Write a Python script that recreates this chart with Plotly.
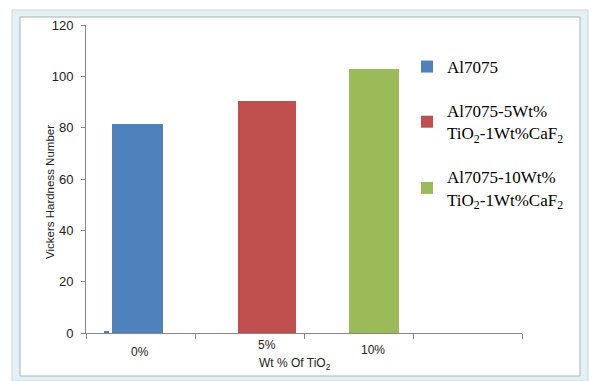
import plotly.graph_objects as go

categories = ["0%", "5%", "10%", ""]
series_names = ["Al7075",
                "Al7075-5Wt%<br>TiO<sub>2</sub>-1Wt%CaF<sub>2</sub>",
                "Al7075-10Wt%<br>TiO<sub>2</sub>-1Wt%CaF<sub>2</sub>"]
series_values = [81.5, 90.5, 102.8]
series_colors = ["#4F81BD", "#C0504D", "#9BBB59"]
stub_value = 0.5  # tiny blue stub at left of 0% group
y_ticks = [0, 20, 40, 60, 80, 100, 120]

W, H = 596, 381
ML, MR, MT, MB = 86, 74, 25, 48
PW, PH = W - ML - MR, H - MT - MB

def px_x(p):
    return (p - ML) / PW

def px_y(p):
    return (H - MB - p) / PH

idx = list(range(len(categories)))
offsets = [-0.257, -0.101, -0.083]
widths = [0.459, 0.523, 0.459]

fig = go.Figure()
fig.add_trace(go.Bar(x=[idx[0]], y=[stub_value], offset=-0.339, width=0.046,
                     marker=dict(color=series_colors[0], line=dict(width=0)),
                     showlegend=False, hoverinfo="skip"))
for i, (name, v, c) in enumerate(zip(series_names, series_values, series_colors)):
    fig.add_trace(go.Bar(x=[idx[i]], y=[v], name=name, offset=offsets[i], width=widths[i],
                         marker=dict(color=c, line=dict(width=0)), legendgroup=str(i)))

annotations = []
label_shift = [-1, 17, 14]
label_y = [352, 345, 350]
for i, cat in enumerate(categories[:3]):
    annotations.append(dict(x=idx[i], y=px_y(label_y[i]), xref="x", yref="paper",
                            xanchor="center", yanchor="middle",
                            text=cat, showarrow=False, xshift=label_shift[i],
                            font=dict(family="Liberation Sans", size=12, color="#222")))
annotations.append(dict(x=px_x(295), y=px_y(364), xref="paper", yref="paper",
                        xanchor="center", yanchor="middle",
                        text="Wt % Of TiO<sub>2</sub>", showarrow=False,
                        font=dict(family="Liberation Sans", size=12, color="#222")))
annotations.append(dict(x=px_x(50), y=px_y(192), xref="paper", yref="paper",
                        xanchor="center", yanchor="middle",
                        text="Vickers Hardness Number", showarrow=False, textangle=-90,
                        font=dict(family="Liberation Sans", size=11.5, color="#222")))

shapes = [
    dict(type="rect", xref="paper", yref="paper", layer="below",
         x0=px_x(12), x1=px_x(588), y0=px_y(381), y1=px_y(10),
         fillcolor="#e4f1f4", line=dict(color="#c3d8de", width=1)),
    dict(type="rect", xref="paper", yref="paper", layer="below",
         x0=px_x(20), x1=px_x(580), y0=px_y(376), y1=px_y(17),
         fillcolor="white", line=dict(color="#a6b4b8", width=1)),
]

fig.update_layout(
    width=W, height=H,
    margin=dict(l=ML, r=MR, t=MT, b=MB),
    paper_bgcolor="white", plot_bgcolor="rgba(0,0,0,0)",
    barmode="overlay", bargap=0,
    showlegend=True,
    legend=dict(x=px_x(407), y=px_y(49), xanchor="left", yanchor="top",
                bgcolor="rgba(0,0,0,0)", tracegroupgap=19, valign="middle",
                font=dict(family="Liberation Serif", size=17, color="black")),
    annotations=annotations,
    shapes=shapes,
)
fig.update_xaxes(range=[-0.5, len(categories) - 0.5],
                 tickvals=[i - 0.5 for i in idx] + [idx[-1] + 0.5],
                 ticktext=[""] * (len(idx) + 1),
                 ticks="outside", ticklen=5, tickcolor="#868686",
                 showline=True, linecolor="#868686", linewidth=1,
                 showgrid=False, zeroline=False, fixedrange=True)
fig.update_yaxes(range=[0, 120], tickvals=y_ticks,
                 ticks="outside", ticklen=4, tickcolor="#868686",
                 showline=True, linecolor="#868686", linewidth=1,
                 showgrid=False, zeroline=False, ticklabelstandoff=5,
                 tickfont=dict(family="Liberation Sans", size=13, color="#222"))

fig.write_html("out.html")
